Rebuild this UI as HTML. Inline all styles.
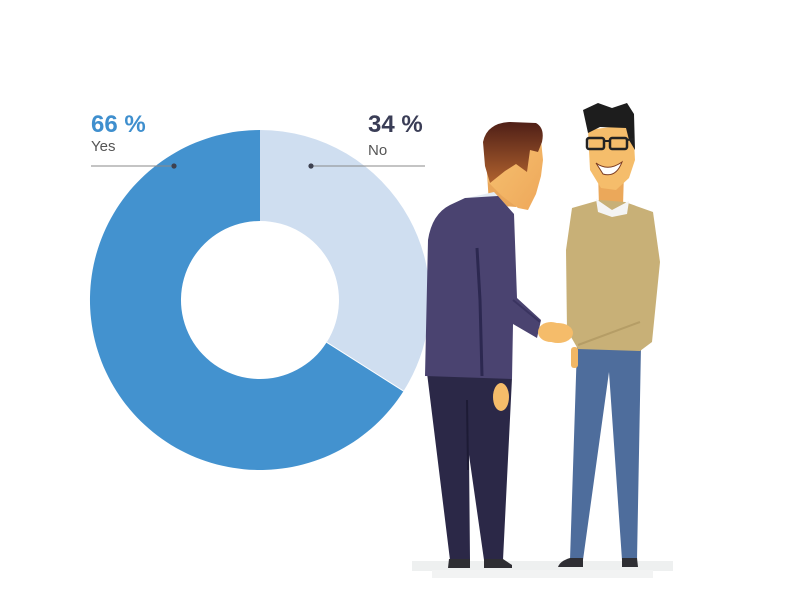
<!DOCTYPE html>
<html>
<head>
<meta charset="utf-8">
<style>
  html,body{margin:0;padding:0;background:#fff;}
  body{width:800px;height:600px;overflow:hidden;position:relative;font-family:"Liberation Sans",sans-serif;}
  svg{position:absolute;left:0;top:0;}
</style>
</head>
<body>
<svg width="800" height="600" viewBox="0 0 800 600" xmlns="http://www.w3.org/2000/svg">
  <defs>
    <linearGradient id="hair1" x1="0" y1="0" x2="0" y2="1">
      <stop offset="0" stop-color="#4f1f17"/>
      <stop offset="1" stop-color="#b0622e"/>
    </linearGradient>
    <linearGradient id="skin1" x1="0" y1="0" x2="1" y2="1">
      <stop offset="0" stop-color="#f7c472"/>
      <stop offset="1" stop-color="#eea75a"/>
    </linearGradient>
  </defs>

  <!-- Donut -->
  <!-- light slice 0..122.4deg -->
  <path d="M260,130 A170,170 0 0 1 403.5,391.1 L326.7,342.3 A79,79 0 0 0 260,221 Z" fill="#cfdef0"/>
  <!-- dark slice -->
  <path d="M403.5,391.1 A170,170 0 1 1 260,130 L260,221 A79,79 0 1 0 326.7,342.3 Z" fill="#4392cf"/>
  <line x1="326.7" y1="342.3" x2="403.5" y2="391.1" stroke="#fff" stroke-width="1"/>

  <!-- Labels -->
  <text x="91" y="132" font-family="Liberation Sans, sans-serif" font-weight="bold" font-size="24" fill="#3f8fce">66 %</text>
  <text x="91" y="151" font-family="Liberation Sans, sans-serif" font-size="15" fill="#555">Yes</text>
  <line x1="91" y1="166" x2="175" y2="166" stroke="#8a8a8a" stroke-width="1"/>
  <circle cx="174" cy="166" r="2.6" fill="#3d4150"/>

  <text x="368" y="132" font-family="Liberation Sans, sans-serif" font-weight="bold" font-size="24" fill="#3a3d56">34 %</text>
  <text x="368" y="155" font-family="Liberation Sans, sans-serif" font-size="15" fill="#555">No</text>
  <line x1="311" y1="166" x2="425" y2="166" stroke="#8a8a8a" stroke-width="1"/>
  <circle cx="311" cy="166" r="2.6" fill="#3d4150"/>

  <!-- Floor -->
  <rect x="412" y="561" width="261" height="10" fill="#eef0f0"/>
  <rect x="432" y="570" width="221" height="8" fill="#f2f3f3"/>

  <!-- ===== Man 1 (suit) ===== -->
  <!-- pants -->
  <path d="M427,373 L512,378 L503,560 L484,560 L469,455 L470,560 L450,560 Z" fill="#2b2847"/>
  <line x1="467" y1="400" x2="468" y2="470" stroke="#1d1b35" stroke-width="2"/>
  <!-- shoes -->
  <path d="M449,559 L470,559 L470,568 L448,568 Z" fill="#2e2e33"/>
  <path d="M484,559 L503,559 L512,565 L512,568 L484,568 Z" fill="#2e2e33"/>
  <!-- neck -->
  <path d="M487,172 L520,172 L516,207 L489,205 Z" fill="#e9a65a"/>
  <!-- face -->
  <path d="M486,140 L540,130 L543,160 L541,176 L536,194 L528,210 L518,208 L502,196 L488,182 Z" fill="url(#skin1)"/>
  <!-- hair -->
  <path d="M483,142 Q487,123 510,122 L536,123 Q545,128 542,142 L538,152 L530,150 L527,172 L516,164 L505,171 L490,183 L485,166 Z" fill="url(#hair1)"/>
  <!-- collar -->
  <path d="M467,198 L494,192 L507,206 L476,204 Z" fill="#e4ebf3"/>
  <!-- jacket -->
  <path d="M465,198 L498,196 L514,214 L517,298 L541,320 L537,338 L513,324 L512,379 L425,376 L428,240 Q432,214 450,205 Z" fill="#4a4370"/>
  <path d="M477,248 L480,300 L482,376" stroke="#2c2850" stroke-width="3" fill="none"/>
  <path d="M513,300 L540,322" stroke="#3a3460" stroke-width="2" fill="none"/>
  <!-- hands -->
  <ellipse cx="551" cy="332" rx="13" ry="10" fill="#f5bc6a"/>
  <ellipse cx="501" cy="397" rx="8" ry="14" fill="#f5bc6a"/>

  <!-- ===== Man 2 (sweater) ===== -->
  <!-- pants -->
  <path d="M577,346 L641,346 L637,560 L622,560 L609,372 L583,560 L570,560 Z" fill="#4e6d9c"/>
  <!-- shoes -->
  <path d="M570,558 L583,558 L583,567 L558,567 Q560,561 570,558 Z" fill="#2e2e33"/>
  <path d="M622,558 L637,558 L638,567 L622,567 Z" fill="#2e2e33"/>
  <!-- neck -->
  <path d="M598,172 L624,172 L623,206 L599,206 Z" fill="#eba85a"/>
  <!-- face -->
  <path d="M588,130 L633,124 L635,160 L629,178 L616,190 L601,188 L590,170 Z" fill="#f5bd6b"/>
  <!-- hair -->
  <path d="M583,110 L598,103 L612,108 L627,103 L634,114 L635,150 L629,140 L626,128 L600,127 L588,133 Z" fill="#1d1d1d"/>
  <!-- glasses -->
  <rect x="587" y="138" width="17" height="11" rx="2" fill="none" stroke="#222" stroke-width="2.5"/>
  <rect x="610" y="138" width="17" height="11" rx="2" fill="none" stroke="#222" stroke-width="2.5"/>
  <line x1="604" y1="141" x2="610" y2="141" stroke="#222" stroke-width="2"/>
  <line x1="627" y1="140" x2="634" y2="139" stroke="#222" stroke-width="2"/>
  <!-- smile -->
  <path d="M596,163 Q608,172 622,162 Q616,178 603,174 Z" fill="#fff" stroke="#7a3a20" stroke-width="1"/>
  <!-- sweater -->
  <path d="M572,208 L600,200 L625,202 L653,212 L660,262 L652,342 L640,351 L578,349 L567,330 L566,250 Z" fill="#c8b077"/>
  <path d="M578,345 L640,322" stroke="#b59d66" stroke-width="2" fill="none"/>
  <!-- collar -->
  <path d="M596,199 L612,210 L629,201 L627,214 L612,217 L598,212 Z" fill="#f4f4f4"/>
  <!-- hands -->
  <ellipse cx="558" cy="333" rx="15" ry="10" fill="#f5bc6a"/>
  <rect x="571" y="347" width="7" height="21" rx="3" fill="#f2b764"/>
</svg>
</body>
</html>
